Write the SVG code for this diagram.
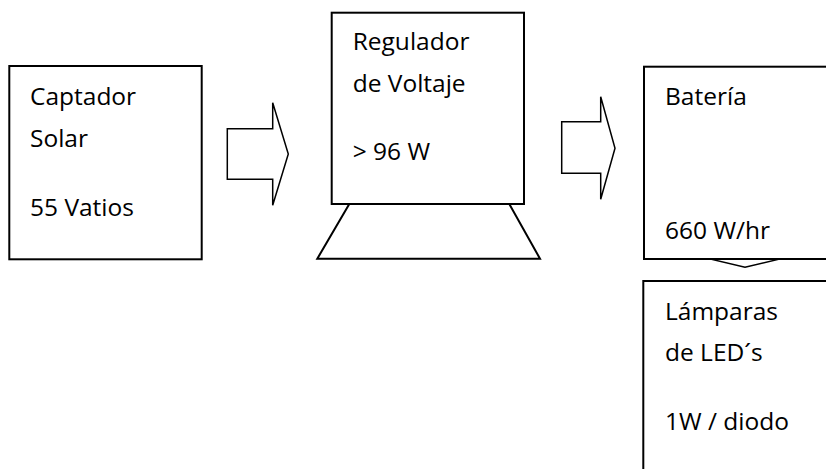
<svg xmlns="http://www.w3.org/2000/svg" width="826" height="469" viewBox="0 0 826 469">
<style>
.box{fill:#fff;stroke:#000;stroke-width:2}
.arr{fill:#fff;stroke:#000;stroke-width:1.5;stroke-linejoin:miter}
.t{font-family:"Open Sans","Noto Sans",sans-serif;font-size:24.5px;fill:#000}
</style>
<rect width="826" height="469" fill="#fff"/>
<g id="connectors">
<polygon class="arr" points="227.3,128.7 272.7,128.7 272.7,102.7 288.3,154 272.7,205.3 272.7,179.3 227.3,179.3"/>
<polygon class="arr" points="561.7,121.7 600.7,121.7 600.7,96.7 615,148.3 600.7,199.3 600.7,173.3 561.7,173.3"/>
<polygon class="arr" points="710,250 780,250 780,259 745,267.3 710,259"/>
</g>
<g id="captador">
<rect class="box" x="9.3" y="66" width="192.4" height="193.3"/>
<text class="t" x="30" y="105">Captador</text>
<text class="t" x="30" y="146.7">Solar</text>
<text class="t" x="30" y="216">55 Vatios</text>
</g>
<g id="regulador">
<polygon class="box" points="349.3,204 509.3,204 540,258.7 317.3,258.7"/>
<rect class="box" x="331.7" y="12.7" width="192.3" height="191.3"/>
<text class="t" x="352.7" y="50">Regulador</text>
<text class="t" x="352.7" y="91.7">de Voltaje</text>
<text class="t" x="352.7" y="160.3">&gt; 96 W</text>
</g>
<g id="bateria">
<rect class="box" x="644" y="66.7" width="200" height="192.3"/>
<text class="t" x="665" y="105">Batería</text>
<text class="t" x="665" y="239">660 W/hr</text>
</g>
<g id="lamparas">
<rect class="box" x="643.3" y="281" width="200" height="200"/>
<text class="t" x="665" y="320">Lámparas</text>
<text class="t" x="665" y="360.7">de LED´s</text>
<text class="t" x="665" y="430">1W / diodo</text>
</g>
</svg>
